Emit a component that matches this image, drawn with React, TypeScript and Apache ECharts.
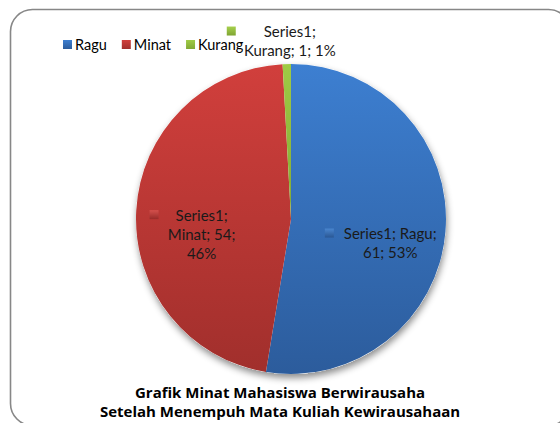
import React, { useEffect, useRef } from 'react';
import * as echarts from 'echarts';

const seriesName = 'Series1';
const categories = ['Ragu', 'Minat', 'Kurang'];
const values = [61, 54, 1];
const percentLabels = ['53%', '46%', '1%'];
const titleLines = ['Grafik Minat Mahasiswa Berwirausaha', 'Setelah Menempuh Mata Kuliah Kewirausahaan'];

// layout helpers (how Excel wrapped each label, and where it sits)
const labelBreaks = [[[0, 1], [2, 3]], [[0], [1, 2], [3]], [[0], [1, 2, 3]]];
const markerGaps = [10, 17, 28];
const labelShifts = [[19, 17], [-9, 19], [1, -98]];

const topColors = ['#3d7fd1', '#d13f3c', '#9fcb45'];
const bottomColors = ['#2c5c9c', '#a12f2c', '#82a934'];
const markerTop = ['#4a86cf', '#d4504c', '#a6d04c'];
const markerBottom = ['#2a5794', '#982b29', '#7fa432'];

const FONT = 'Lato, "Open Sans", sans-serif';

export default function App() {
  const ref = useRef<HTMLDivElement>(null);
  useEffect(() => {
    document.body.style.margin = '0';
    const chart = echarts.init(ref.current!, undefined, { renderer: 'svg' });
    const total = values.reduce((a, b) => a + b, 0);
    const rich: any = {};
    categories.forEach((_, i) => {
      rich['sq' + i] = {
        width: 9,
        height: 9,
        backgroundColor: new echarts.graphic.LinearGradient(0, 0, 0, 1, [
          { offset: 0, color: markerTop[i] },
          { offset: 1, color: markerBottom[i] },
        ]),
        align: 'center',
      };
      rich['g' + i] = { width: markerGaps[i], align: 'center' };
      rich['b' + i] = { width: markerGaps[i] + 9, align: 'center' };
    });
    rich.t = { fontSize: 15, fontFamily: FONT, color: '#1a1a1a', lineHeight: 19, align: 'center' };
    const option: any = {
      animation: false,
      textStyle: { fontFamily: FONT },
      title: {
        text: titleLines.join('\n'),
        left: 'center',
        top: 378,
        textStyle: { fontSize: 15, fontWeight: 'bold', color: '#000', fontFamily: '"Open Sans", Lato, sans-serif', lineHeight: 18.5 },
      },
      legend: {
        data: categories,
        left: 63,
        top: 37,
        padding: 0,
        icon: 'rect',
        itemWidth: 9,
        itemHeight: 9,
        itemGap: 15,
        selectedMode: false,
        textStyle: { fontSize: 14.5, color: '#000', fontFamily: FONT, padding: [0, 0, 0, -2] },
      },
      graphic: [
        {
          type: 'rect',
          shape: { x: 10.5, y: 9.5, width: 560, height: 416, r: 22 },
          style: { fill: 'none', stroke: '#878787', lineWidth: 1.6 },
          silent: true,
          z: -10,
        },
      ],
      series: [
        {
          type: 'pie',
          silent: true,
          center: [291, 219],
          radius: 155,
          z: 1,
          label: { show: false },
          labelLine: { show: false },
          data: [{ value: total, name: 'shadow' }],
          itemStyle: {
            color: '#ffffff',
            shadowBlur: 7,
            shadowOffsetY: 4,
            shadowOffsetX: 1,
            shadowColor: 'rgba(0,0,0,0.45)',
          },
        },
        {
          type: 'pie',
          name: seriesName,
          center: [291, 219],
          radius: 155,
          startAngle: 90,
          clockwise: true,
          z: 2,
          avoidLabelOverlap: false,
          data: categories.map((c, i) => ({
            name: c,
            value: values[i],
            itemStyle: {
              color: new echarts.graphic.LinearGradient(0, 0, 0, 1, [
                { offset: 0, color: topColors[i] },
                { offset: 1, color: bottomColors[i] },
              ]),
            },
          })),
          label: {
            show: true,
            position: 'inside',
            align: 'center',
            verticalAlign: 'middle',
            rich,
            formatter: (p: any) => {
              const i = p.dataIndex;
              const parts = [seriesName + ';', categories[i] + ';', values[i] + ';', percentLabels[i]];
              return labelBreaks[i]
                .map((idx, li) => {
                  const txt = idx.map((k) => parts[k]).join(' ');
                  if (li === 0) return `{sq${i}| }{g${i}| }{t|${txt}}{b${i}| }`;
                  return `{t|${txt}}`;
                })
                .join('\n');
            },
          },
          labelLine: { show: false },
          labelLayout: (params: any) => {
            const i = params.dataIndex;
            return { dx: labelShifts[i][0], dy: labelShifts[i][1] };
          },
        },
      ],
    };
    chart.setOption(option);
    return () => chart.dispose();
  }, []);
  return <div ref={ref} style={{ width: 560, height: 423 }} />;
}
